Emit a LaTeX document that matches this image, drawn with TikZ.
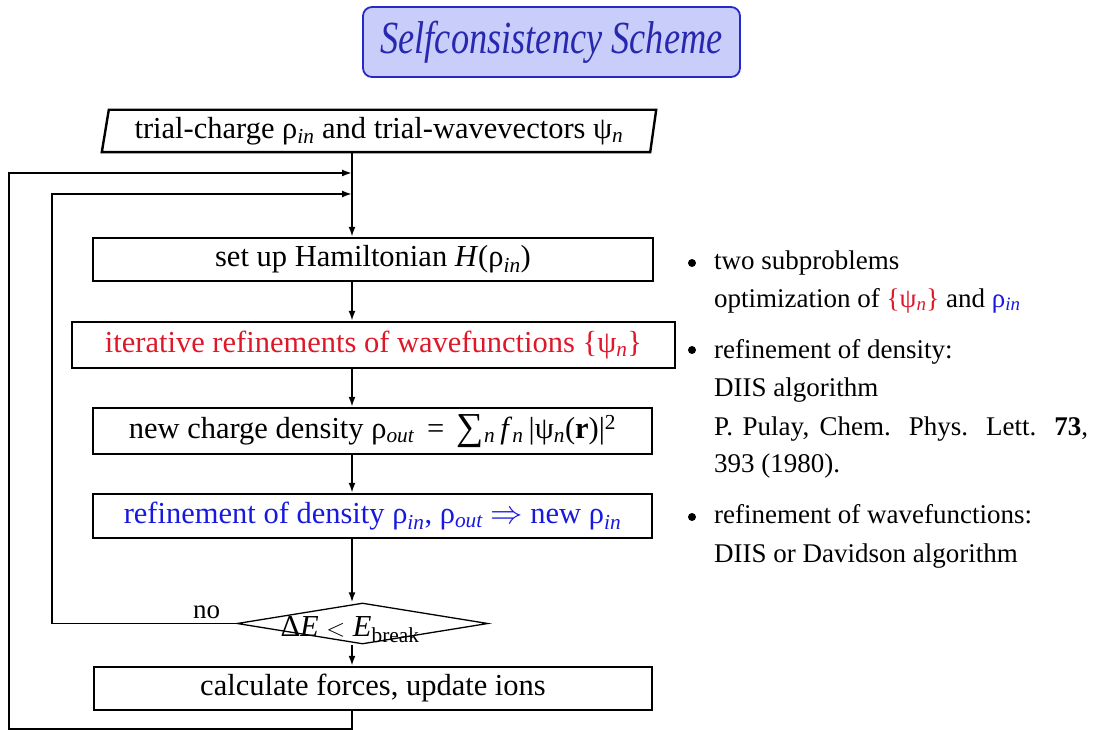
\documentclass[tikz,border=0pt]{standalone}
\usepackage{fontspec}
\setmainfont{Liberation Serif}
\usetikzlibrary{shapes.geometric,arrows.meta,calc}
\definecolor{tred}{RGB}{222,24,40}
\definecolor{tblue}{RGB}{24,24,225}
\definecolor{titlefill}{RGB}{200,205,250}
\definecolor{titleline}{RGB}{40,40,200}
\definecolor{titletext}{RGB}{40,40,175}
\newcommand\isub[1]{\textsubscript{\itshape #1}}
\tikzset{
  boxtext/.style={font=\fontsize{30.5}{35}\selectfont},
  flowbox/.style={draw, line width=2.4pt, boxtext, inner sep=0pt, align=center},
  conn/.style={line width=1.8pt, -{Latex[length=10pt,width=7pt]}},
  side/.style={font=\fontsize{27}{30}\selectfont, anchor=base west, inner sep=0pt},
}
\begin{document}
\begin{tikzpicture}[x=1pt,y=-1pt]
\useasboundingbox (0,0) rectangle (1094,730);
% title
\node[draw=titleline, line width=1.8pt, fill=titlefill, rounded corners=9pt,
      minimum width=377pt, minimum height=70pt, inner sep=0pt,
      text=titletext, font=\fontsize{46}{50}\selectfont\itshape] (title) at (551.5,42)
      {\scalebox{0.79}[1]{Selfconsistency Scheme}};
% start node (parallelogram)
\node[boxtext, minimum width=554pt, minimum height=42pt, inner sep=0pt] (top) at (379,131)
  {trial-charge ρ\isub{in} and trial-wavevectors ψ\isub{n}};
\draw[line width=2.4pt] (top.south west) -- ($(top.north west)+(7,0)$) -- (top.north east)
  -- ($(top.south east)+(-6,0)$) -- cycle;
% boxes
\node[flowbox, minimum width=560pt, minimum height=43pt] (ham) at (373,259.5)
  {set up Hamiltonian \textit{H}(ρ\isub{in})};
\node[flowbox, minimum width=603pt, minimum height=46pt, text=tred] (iter) at (373.5,345)
  {iterative refinements of wavefunctions \{ψ\isub{n}\}};
\node[flowbox, minimum width=559pt, minimum height=46pt] (newc) at (372.5,431)
  {new charge density ρ\isub{out} \,=\, \raisebox{-1pt}{\scalebox{1.25}{∑}}\isub{n}\,\textit{f}\isub{n}\,|ψ\isub{n}(\textbf{r})|\textsuperscript{2}};
\node[flowbox, minimum width=559pt, minimum height=44pt, text=tblue] (refd) at (372.5,516)
  {refinement of density ρ\isub{in}, ρ\isub{out} \raisebox{-0.5pt}{\scalebox{1.3}{$\Rightarrow$}} new ρ\isub{in}};
\node[diamond, draw, line width=1.3pt, minimum width=251pt, minimum height=41pt, inner sep=0pt] (dia) at (362.5,623.5) {};
\node[boxtext, anchor=base, inner sep=0pt] (dtext) at (350,636) {Δ\textit{E} $<$ \textit{E}\textsubscript{break}};
\node[flowbox, minimum width=558pt, minimum height=43pt] (calc) at (373,688.5)
  {calculate forces, update ions};
\node[side] (no) at (193,618) {no};
% main line
\coordinate (L) at (352,0);
\coordinate (t1) at (352,173);
\coordinate (t2) at (352,194);
\coordinate (b1) at (9,729);
\coordinate (c2) at (52,194);
\draw[conn] (top.south -| L) -- (ham.north -| L);
\draw[conn] (ham.south -| L) -- (iter.north -| L);
\draw[conn] (iter.south -| L) -- (newc.north -| L);
\draw[conn] (newc.south -| L) -- (refd.north -| L);
\draw[conn] (refd.south -| L) -- (dia.north -| L);
\draw[conn] (dia.south -| L) -- (calc.north -| L);
\draw[conn] (calc.south -| L) |- (b1) |- (t1);
\draw[conn] (dia.west) -| (c2) -- (t2);
% side notes
\fill (692,263) circle (4pt);
\fill (692,350) circle (4pt);
\fill (692,517) circle (4pt);
\node[side] (s1) at (714,269) {two subproblems};
\node[side] (s2) at (714,307) {optimization of {\color{tred}\{ψ\isub{n}\}} and {\color{tblue}ρ\isub{in}}};
\node[side] (s3) at (714,358) {refinement of density:};
\node[side] (s4) at (714,396) {DIIS algorithm};
\node[side] (s5) at (714,435) {\makebox[374pt][s]{P. Pulay, Chem. Phys. Lett. \textbf{73},}};
\node[side] (s6) at (714,472) {393 (1980).};
\node[side] (s7) at (714,523) {refinement of wavefunctions:};
\node[side] (s8) at (714,562) {DIIS or Davidson algorithm};
\end{tikzpicture}
\end{document}
